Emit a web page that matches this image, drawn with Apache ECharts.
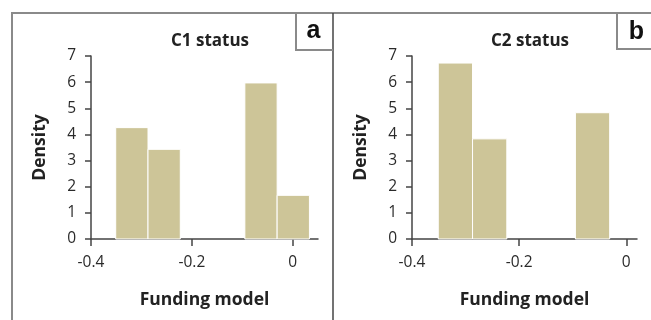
<!DOCTYPE html>
<html>
<head>
<meta charset="utf-8">
<script src="https://cdn.jsdelivr.net/npm/echarts@6/dist/echarts.min.js"></script>
<style>
html,body{margin:0;padding:0;background:#fff;}
#chart{width:651px;height:320px;}
</style>
</head>
<body>
<div id="chart"></div>
<script>
// Histogram bin edges (Funding model)
var binStarts = [-0.351, -0.287, -0.223, -0.159, -0.095, -0.031];
var binEnds   = [-0.287, -0.223, -0.159, -0.095, -0.031, 0.033];
// Densities
var c1Density = [4.26, 3.43, 0, 0, 5.97, 1.67];
var c2Density = [6.73, 3.83, 0, 0, 4.83, 0];
var xTicks = [-0.4, -0.2, 0];
var yTicks = [0, 1, 2, 3, 4, 5, 6, 7];
var panelTitles = ['C1 status', 'C2 status'];
var panelLetters = ['a', 'b'];
var xName = 'Funding model';
var yName = 'Density';

var FONT = '"Open Sans", sans-serif';
var BAR = '#cdc598';
var AXIS = '#444';

function histData(vals) {
  var out = [];
  for (var i = 0; i < vals.length; i++) {
    if (vals[i] > 0) out.push([binStarts[i], binEnds[i], vals[i]]);
  }
  return out;
}

function renderBar(params, api) {
  var p0 = api.coord([api.value(0), api.value(2)]);
  var p1 = api.coord([api.value(1), 0]);
  return {
    type: 'rect',
    shape: { x: p0[0], y: p0[1], width: p1[0] - p0[0], height: p1[1] - p0[1] },
    style: { fill: BAR, stroke: '#fff', lineWidth: 1 }
  };
}

function xAxisCfg(idx, max) {
  return {
    type: 'value', gridIndex: idx, min: -0.4, max: max, interval: 0.2,
    name: xName, nameLocation: 'middle', nameGap: 52,
    nameTextStyle: { fontFamily: FONT, fontWeight: 'bold', fontSize: 17.5, color: '#222' },
    axisLine: { show: true, onZero: false, lineStyle: { color: AXIS, width: 1.5 } },
    axisTick: { show: true, length: 7, lineStyle: { color: AXIS, width: 1.5 }, customValues: xTicks },
    axisLabel: { fontFamily: FONT, fontSize: 15.5, color: '#2a2a2a', margin: 16, customValues: xTicks,
      formatter: function (v) { return Math.abs(v) < 1e-9 ? '0' : String(+v.toFixed(1)); } },
    splitLine: { show: false }
  };
}
function yAxisCfg(idx) {
  return {
    type: 'value', gridIndex: idx, min: 0, max: 7, interval: 1,
    name: yName, nameLocation: 'middle', nameGap: 42,
    nameTextStyle: { fontFamily: FONT, fontWeight: 'bold', fontSize: 17.5, color: '#222' },
    axisLine: { show: true, onZero: false, lineStyle: { color: AXIS, width: 1.5 } },
    axisTick: { show: true, length: 6, lineStyle: { color: AXIS, width: 1.5 } },
    axisLabel: { fontFamily: FONT, fontSize: 15.5, color: '#2a2a2a', margin: 15 },
    splitLine: { show: false }
  };
}

var chart = echarts.init(document.getElementById('chart'), null, { renderer: 'canvas' });
var option = {
  animation: false,
  backgroundColor: '#fff',
  title: [
    { text: panelTitles[0], left: 205, top: 28, textAlign: 'center',
      textStyle: { fontFamily: FONT, fontWeight: 'bold', fontSize: 17, color: '#222' } },
    { text: panelTitles[1], left: 525, top: 28, textAlign: 'center',
      textStyle: { fontFamily: FONT, fontWeight: 'bold', fontSize: 17, color: '#222' } }
  ],
  grid: [
    { left: 91, top: 56, width: 227, height: 183 },
    { left: 412, top: 56, width: 225, height: 183 }
  ],
  xAxis: [xAxisCfg(0, 0.05), xAxisCfg(1, 0.02)],
  yAxis: [yAxisCfg(0), yAxisCfg(1)],
  series: [
    { type: 'custom', xAxisIndex: 0, yAxisIndex: 0, renderItem: renderBar,
      encode: { x: [0, 1], y: 2 }, data: histData(c1Density) },
    { type: 'custom', xAxisIndex: 1, yAxisIndex: 1, renderItem: renderBar,
      encode: { x: [0, 1], y: 2 }, data: histData(c2Density) }
  ],
  graphic: [
    { type: 'line', shape: { x1: 12, y1: 13, x2: 651, y2: 13 }, style: { stroke: '#8a8a8a', lineWidth: 2 } },
    { type: 'line', shape: { x1: 12, y1: 12, x2: 12, y2: 320 }, style: { stroke: '#8a8a8a', lineWidth: 2 } },
    { type: 'line', shape: { x1: 333, y1: 13, x2: 333, y2: 320 }, style: { stroke: '#444', lineWidth: 1.5 } },
    { type: 'polyline', shape: { points: [[296, 13], [296, 50], [333, 50]] }, style: { stroke: '#8a8a8a', lineWidth: 2, fill: null } },
    { type: 'polyline', shape: { points: [[617, 13], [617, 49], [651, 49]] }, style: { stroke: '#8a8a8a', lineWidth: 2, fill: null } },
    { type: 'text', x: 313.5, y: 31.5, style: { text: panelLetters[0], font: 'bold 25px Arial, "Liberation Sans", sans-serif', fill: '#111', textAlign: 'center', textVerticalAlign: 'middle' } },
    { type: 'text', x: 636.5, y: 32, style: { text: panelLetters[1], font: 'bold 25px Arial, "Liberation Sans", sans-serif', fill: '#111', textAlign: 'center', textVerticalAlign: 'middle' } }
  ]
};
chart.setOption(option);
</script>
</body>
</html>
